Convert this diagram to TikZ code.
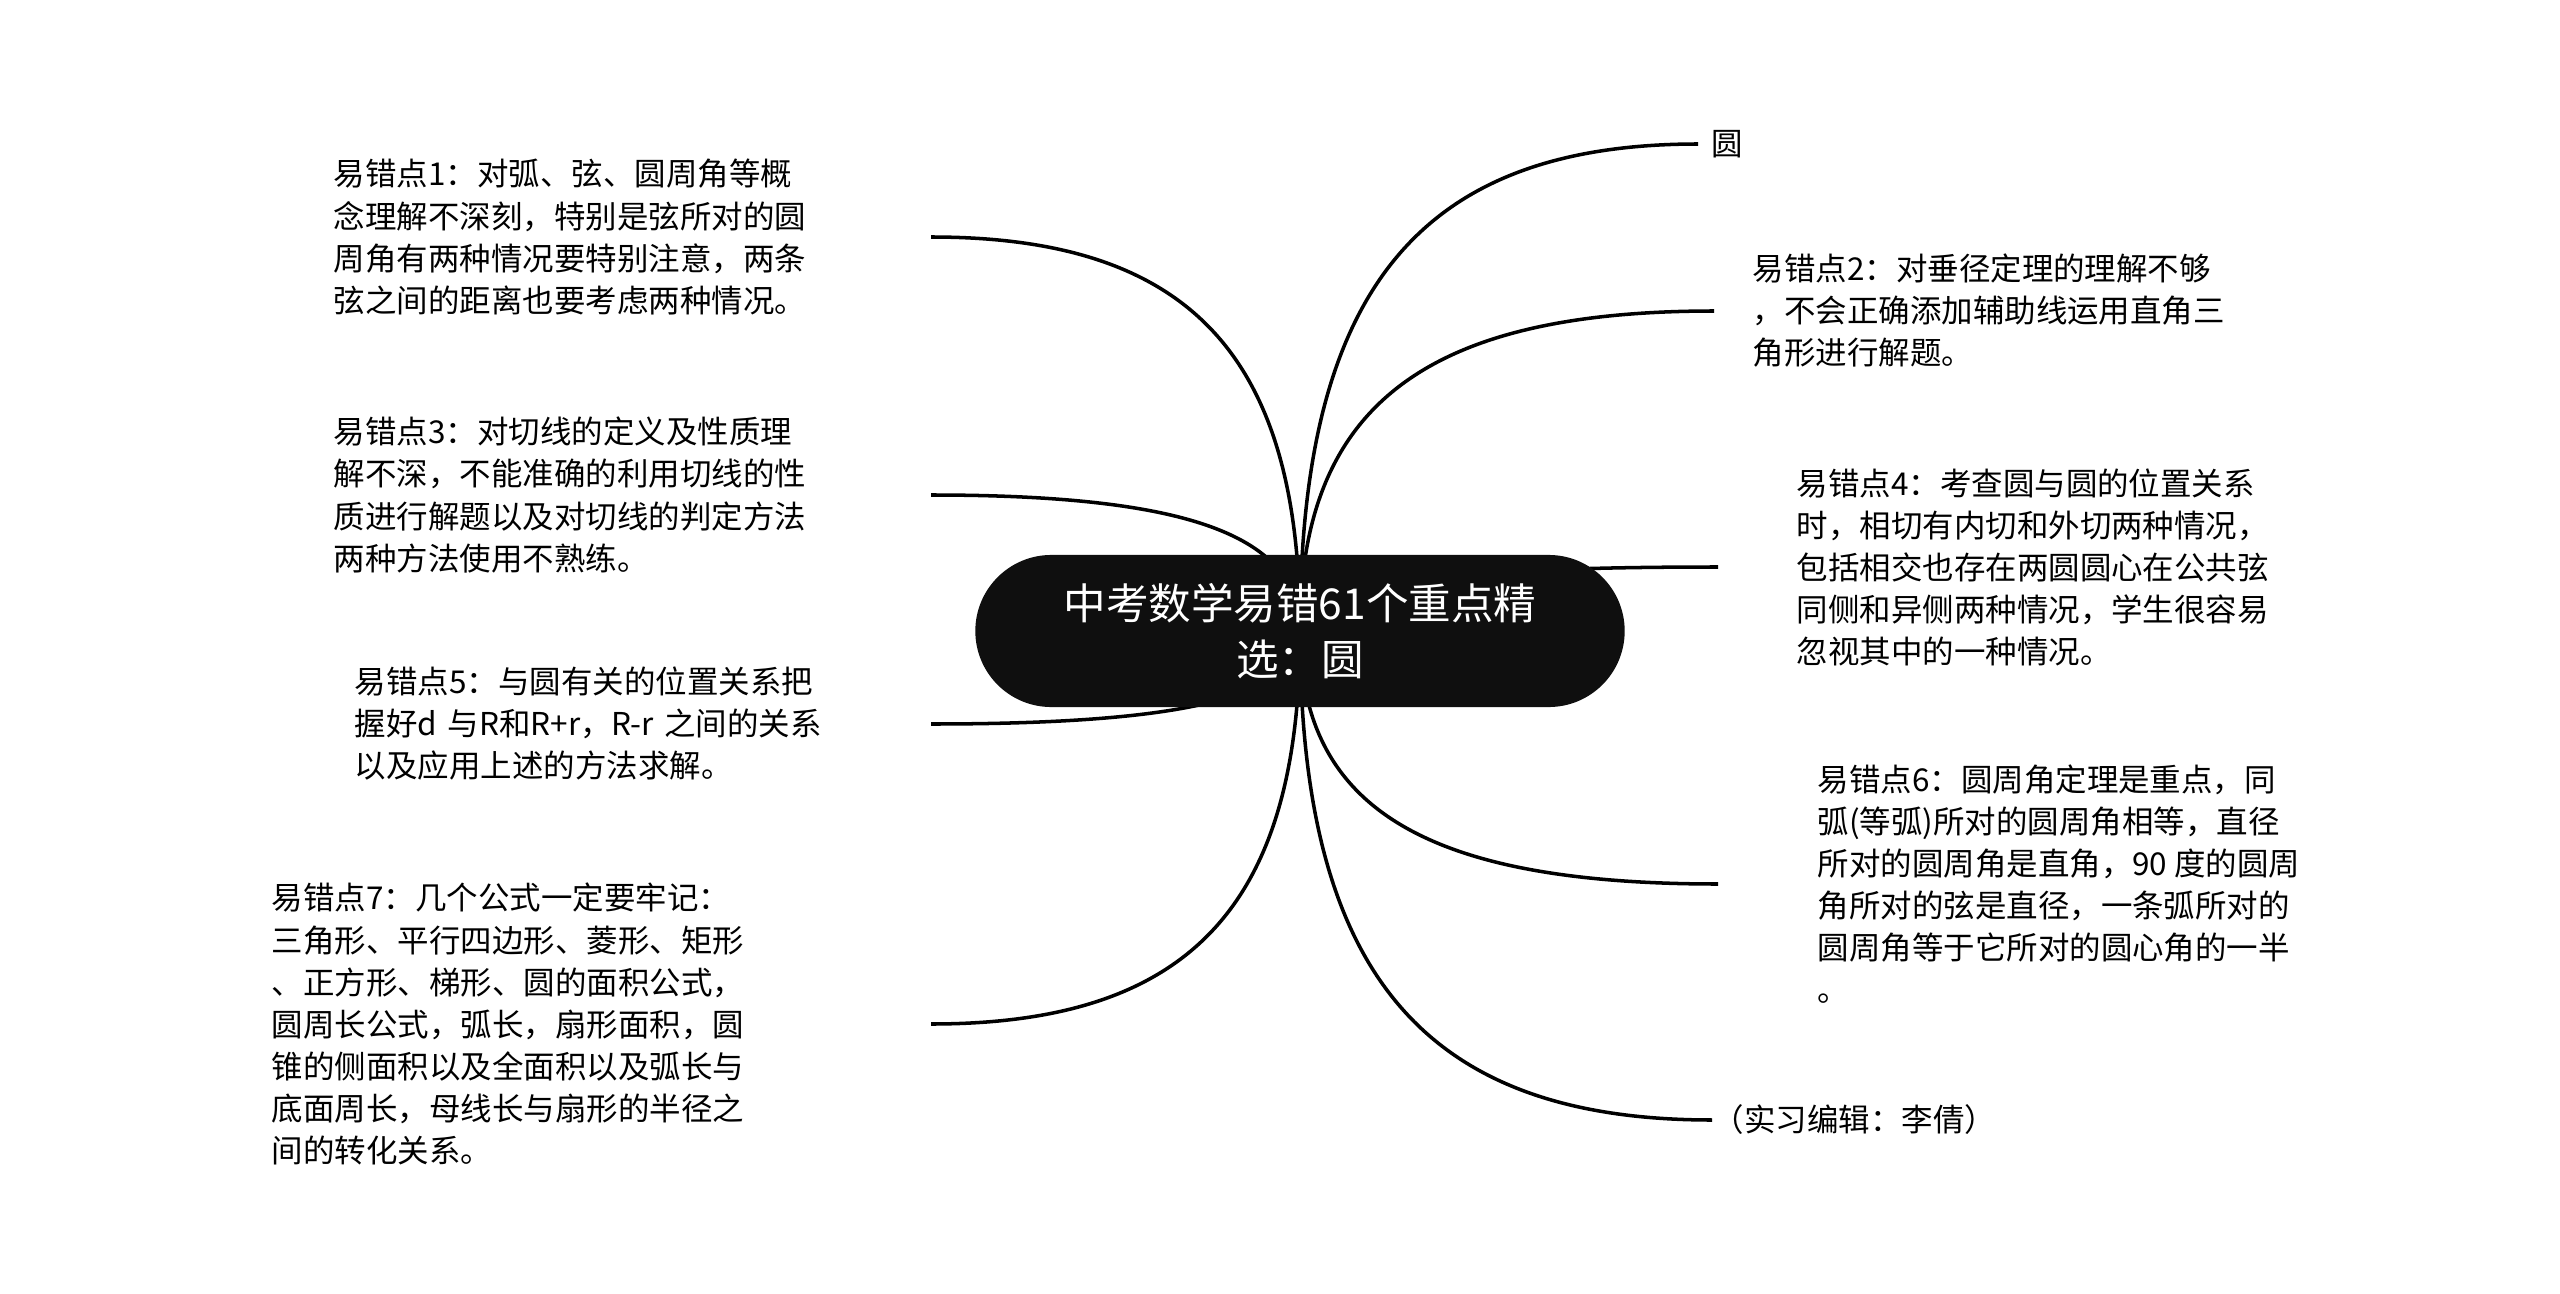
\documentclass[tikz,border=0pt]{standalone}
\usepackage{fontspec}
\setmainfont{Noto Sans CJK SC}
\usetikzlibrary{positioning, backgrounds, calc}
\def\bend{0.7}

\begin{document}
\begin{tikzpicture}[x=0.01cm, y=-0.01cm]
    \tikzstyle{root}=[rectangle, rounded corners=0.76cm, fill=black!94, text=white, minimum width=6.49cm, minimum height=1.52cm, align=center, font=\fontsize{12.1pt}{15.9pt}\selectfont]
    \tikzstyle{leaf}=[inner sep=0pt, align=left, font=\fontsize{8.95pt}{11.95pt}\selectfont]
    \tikzstyle{left leaf}=[leaf, anchor=east]
    \tikzstyle{right leaf}=[leaf, anchor=west]
    \tikzstyle{branch}=[draw=black, line width=1pt]

    \useasboundingbox (0,0) rectangle (2560,1294);

    % central topic
    \node[root] (root) at (1300,631) {中考数学易错61个重点精\\选：圆};

    % left side
    \node[left leaf, text width=5.96cm] (L-1) at (931,237) {易错点1：对弧、弦、圆周角等概\\念理解不深刻，特别是弦所对的圆\\周角有两种情况要特别注意，两条\\弦之间的距离也要考虑两种情况。};
    \node[left leaf, text width=5.96cm] (L-3) at (931,495) {易错点3：对切线的定义及性质理\\解不深，不能准确的利用切线的性\\质进行解题以及对切线的判定方法\\两种方法使用不熟练。};
    \node[left leaf, text width=5.75cm] (L-5) at (931,724) {易错点5：与圆有关的位置关系把\\握好d 与R和R+r，R-r 之间的关系\\以及应用上述的方法求解。};
    \node[left leaf, text width=6.58cm] (L-7) at (931,1024) {易错点7：几个公式一定要牢记：\\三角形、平行四边形、菱形、矩形\\、正方形、梯形、圆的面积公式，\\圆周长公式，弧长，扇形面积，圆\\锥的侧面积以及全面积以及弧长与\\底面周长，母线长与扇形的半径之\\间的转化关系。};

    % right side
    \node[right leaf, inner xsep=0.13cm] (R-0) at (1698,144) {圆};
    \node[right leaf, inner xsep=0.38cm] (R-2) at (1714,311) {易错点2：对垂径定理的理解不够\\，不会正确添加辅助线运用直角三\\角形进行解题。};
    \node[right leaf, inner xsep=0.78cm] (R-4) at (1718,567) {易错点4：考查圆与圆的位置关系\\时，相切有内切和外切两种情况，\\包括相交也存在两圆圆心在公共弦\\同侧和异侧两种情况，学生很容易\\忽视其中的一种情况。};
    \node[right leaf, inner xsep=0.99cm] (R-6) at (1718,884) {易错点6：圆周角定理是重点，同\\弧(等弧)所对的圆周角相等，直径\\所对的圆周角是直角，90 度的圆周\\角所对的弦是直径，一条弧所对的\\圆周角等于它所对的圆心角的一半\\。};
    \node[right leaf, inner xsep=0pt] (R-8) at (1712,1120) {（实习编辑：李倩）};

    % connect the root with every leaf, behind the root
    \begin{pgfonlayer}{background}
    \foreach \n in {1,3,5,7}
        \draw[branch] (root.center) .. controls ($(root.center)!\bend!(root.center |- L-\n.east)$) and ($(L-\n.east)!\bend!(root.center |- L-\n.east)$) .. (L-\n.east);
    \foreach \n in {0,2,4,6,8}
        \draw[branch] (root.center) .. controls ($(root.center)!\bend!(root.center |- R-\n.west)$) and ($(R-\n.west)!\bend!(root.center |- R-\n.west)$) .. (R-\n.west);
    \end{pgfonlayer}
\end{tikzpicture}
\end{document}
